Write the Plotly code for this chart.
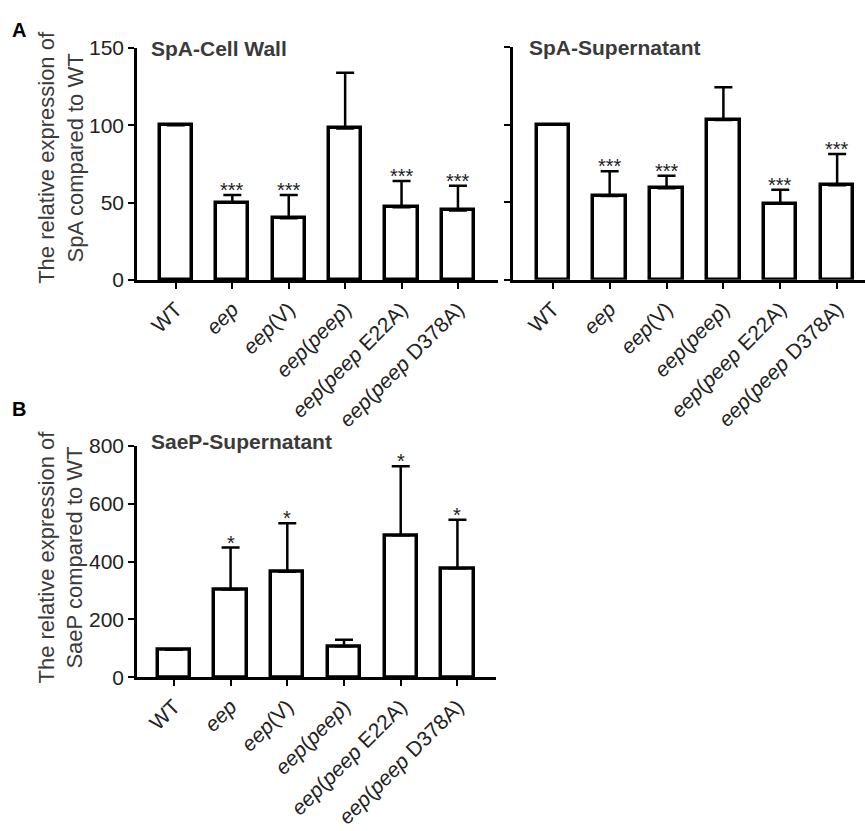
import plotly.graph_objects as go

W, H = 865, 831

categories = ["WT", "<i>eep</i>", "<i>eep</i>(V)", "<i>eep</i>(<i>peep</i>)",
              "<i>eep</i>(<i>peep</i> E22A)", "<i>eep</i>(<i>peep</i> D378A)"]

spa_cw_mean = [100, 50, 40, 98, 47, 45]
spa_cw_err = [0, 5, 15, 36, 17, 16]
spa_cw_sig = ["", "***", "***", "", "***", "***"]

spa_sn_mean = [100, 54, 59, 103, 49, 61]
spa_sn_err = [0, 16, 8, 21, 9, 20]
spa_sn_sig = ["", "***", "***", "", "***", "***"]

saep_sn_mean = [95, 303, 365, 107, 491, 377]
saep_sn_err = [0, 145, 167, 23, 238, 167]
saep_sn_sig = ["", "*", "*", "", "*", "*"]

yticks_a = [0, 50, 100, 150]
yticks_b = [0, 200, 400, 600, 800]

FONT = "Liberation Sans, Arial, sans-serif"
TXT = "#222222"

def px_x(p):
    return p / W

def px_y(p):
    return 1 - p / H

fig = go.Figure()

panels = [
    dict(mean=spa_cw_mean, err=spa_cw_err, sig=spa_cw_sig, xa="x", ya="y"),
    dict(mean=spa_sn_mean, err=spa_sn_err, sig=spa_sn_sig, xa="x2", ya="y2"),
    dict(mean=saep_sn_mean, err=saep_sn_err, sig=saep_sn_sig, xa="x3", ya="y3"),
]

for p in panels:
    xs = list(range(len(categories)))
    fig.add_trace(go.Bar(
        x=xs, y=p["mean"], width=0.57,
        marker=dict(color="white", line=dict(color="black", width=3.5)),
        error_y=dict(type="data", symmetric=False, array=p["err"],
                     arrayminus=[0] * len(xs), color="black", thickness=2.5, width=9),
        xaxis=p["xa"], yaxis=p["ya"], showlegend=False, hoverinfo="skip",
    ))
    for i, (m, e, s) in enumerate(zip(p["mean"], p["err"], p["sig"])):
        if s:
            fig.add_annotation(x=i, y=m + e, xref=p["xa"], yref=p["ya"], text=s,
                               showarrow=False, yanchor="bottom", yshift=-8,
                               font=dict(family=FONT, size=20, color=TXT))

xcommon = dict(tickmode="array", tickvals=list(range(6)), ticktext=categories,
               tickangle=-45, ticks="outside", ticklen=6, tickwidth=2, tickcolor="black",
               showline=True, linecolor="black", linewidth=2.5, showgrid=False,
               zeroline=False, tickfont=dict(family=FONT, size=21, color=TXT))
ycommon = dict(ticks="outside", ticklen=6, tickwidth=2, tickcolor="black",
               showline=True, linecolor="black", linewidth=2.5, showgrid=False,
               zeroline=False, tickfont=dict(family=FONT, size=21, color=TXT))

fig.update_layout(
    width=W, height=H, margin=dict(l=0, r=0, t=0, b=0),
    paper_bgcolor="white", plot_bgcolor="white", bargap=0,
    xaxis=dict(xcommon, domain=[px_x(137), px_x(498)], range=[-0.69, 5.71], anchor="y"),
    yaxis=dict(ycommon, domain=[px_y(275.7), px_y(37)], range=[0, 150],
               tickvals=yticks_a, anchor="x"),
    xaxis2=dict(xcommon, domain=[px_x(513), 1.0], range=[-0.70, 5.49], anchor="y2"),
    yaxis2=dict(ycommon, domain=[px_y(275.5), px_y(36)], range=[0, 150],
                tickvals=yticks_a, showticklabels=False, anchor="x2"),
    xaxis3=dict(xcommon, domain=[px_x(137), px_x(496)], range=[-0.65, 5.68], anchor="y3"),
    yaxis3=dict(ycommon, domain=[px_y(684.3), px_y(446)], range=[0, 800],
                tickvals=yticks_b, anchor="x3"),
)

def ann(text, x, y, size, bold=False, angle=0, xanchor="left", color=TXT):
    fig.add_annotation(text=("<b>%s</b>" % text) if bold else text,
                       x=px_x(x), y=px_y(y), xref="paper", yref="paper",
                       showarrow=False, xanchor=xanchor, yanchor="middle",
                       textangle=angle, font=dict(family=FONT, size=size, color=color))

ann("A", 10, 19, 20, bold=True, color="black")
ann("B", 10, 408, 20, bold=True, color="black")
ann("SpA-Cell Wall", 149, 38, 21, bold=True, color="#3a3a3a")
ann("SpA-Supernatant", 527, 37, 21, bold=True, color="#3a3a3a")
ann("SaeP-Supernatant", 149, 442, 21, bold=True, color="#3a3a3a")
ann("The relative expression of<br>SpA compared to WT", 61, 150, 22, angle=-90,
    xanchor="center", color="#3a3a3a")
ann("The relative expression of<br>SaeP compared to WT", 61, 561, 22, angle=-90,
    xanchor="center", color="#3a3a3a")

fig.write_html("out.html", config={"displayModeBar": False},
               post_script="document.body.style.margin='0';document.body.style.overflow='hidden';")
